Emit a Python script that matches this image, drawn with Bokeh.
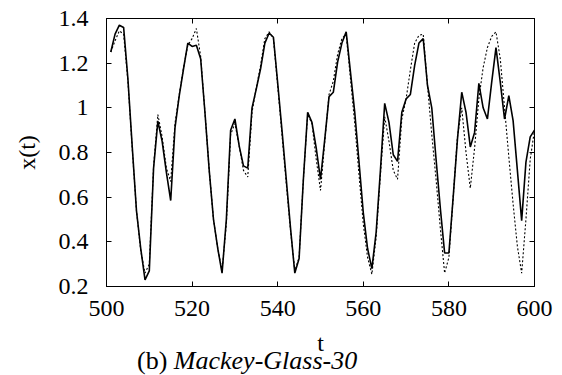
from bokeh.plotting import figure
from bokeh.models import LinearAxis, FixedTicker, Range1d, Div
from bokeh.layouts import column
from bokeh.embed import file_html
from bokeh.resources import INLINE

t = list(range(501, 601))

predicted = [
    1.25, 1.33, 1.37, 1.36, 1.13, 0.83, 0.54, 0.37, 0.23, 0.27,
    0.73, 0.94, 0.85, 0.71, 0.585, 0.91, 1.055, 1.175, 1.29, 1.275,
    1.28, 1.22, 0.98, 0.72, 0.50, 0.37, 0.26, 0.50, 0.90, 0.95,
    0.83, 0.74, 0.73, 1.00, 1.085, 1.175, 1.29, 1.335, 1.316, 1.11,
    0.90, 0.68, 0.46, 0.26, 0.325, 0.68, 0.98, 0.935, 0.82, 0.68,
    0.86, 1.05, 1.07, 1.205, 1.29, 1.34, 1.16, 0.98, 0.757, 0.53,
    0.37, 0.28, 0.443, 0.72, 1.02, 0.935, 0.79, 0.76, 0.98, 1.04,
    1.06, 1.19, 1.29, 1.31, 1.10, 1.00, 0.77, 0.55, 0.35, 0.35,
    0.60, 0.86, 1.07, 0.98, 0.825, 0.89, 1.11, 1.00, 0.95, 1.115,
    1.27, 1.115, 0.95, 1.055, 0.943, 0.72, 0.495, 0.757, 0.87, 0.90,
]

actual = [
    1.25, 1.30, 1.345, 1.33, 1.12, 0.82, 0.54, 0.36, 0.26, 0.30,
    0.74, 0.97, 0.87, 0.73, 0.67, 0.93, 1.06, 1.18, 1.28, 1.31,
    1.355, 1.23, 0.98, 0.72, 0.50, 0.37, 0.27, 0.48, 0.88, 0.93,
    0.83, 0.72, 0.69, 0.98, 1.09, 1.19, 1.31, 1.34, 1.31, 1.10,
    0.88, 0.66, 0.45, 0.27, 0.33, 0.68, 0.97, 0.93, 0.77, 0.63,
    0.85, 1.06, 1.12, 1.24, 1.31, 1.33, 1.13, 0.93, 0.70, 0.48,
    0.33, 0.255, 0.42, 0.70, 0.96, 0.85, 0.72, 0.68, 0.95, 1.04,
    1.17, 1.29, 1.325, 1.33, 1.10, 0.88, 0.68, 0.46, 0.26, 0.33,
    0.60, 0.87, 1.00, 0.80, 0.64, 0.82, 1.04, 1.18, 1.27, 1.32,
    1.34, 1.22, 1.00, 0.78, 0.57, 0.38, 0.26, 0.50, 0.77, 0.90,
]

x_ticks = [500, 520, 540, 560, 580, 600]
x_tick_labels = ["500", "520", "540", "560", "580", "600"]
y_ticks = [0.2, 0.4, 0.6, 0.8, 1.0, 1.2, 1.4]
y_tick_labels = ["0.2", "0.4", "0.6", "0.8", "1", "1.2", "1.4"]

FONT = "Liberation Serif"

p = figure(width=562, height=375,
           x_range=Range1d(500, 600), y_range=Range1d(0.2, 1.4),
           output_backend="svg", toolbar_location=None,
           min_border_left=106, min_border_right=28,
           min_border_top=18, min_border_bottom=89,
           x_axis_label="t", y_axis_label="x(t)")

p.xgrid.visible = False
p.ygrid.visible = False
p.outline_line_color = "black"
p.outline_line_width = 1
p.outline_line_alpha = 1
p.background_fill_color = "white"
p.border_fill_color = "white"

def style_axis(ax, ticks, labels, show_labels=True):
    ax.ticker = FixedTicker(ticks=ticks)
    ax.minor_tick_line_color = None
    ax.major_tick_in = 5
    ax.major_tick_out = 0
    ax.major_tick_line_color = "black"
    ax.axis_line_color = "black"
    ax.major_label_text_font = FONT
    ax.axis_label_text_font = FONT
    ax.axis_label_text_font_style = "normal"
    ax.axis_label_text_font_size = "24px"
    ax.axis_label_text_color = "black"
    ax.major_label_text_font_size = "24px"
    if show_labels:
        ax.major_label_overrides = {tk: lb for tk, lb in zip(ticks, labels)}
        ax.major_label_text_color = "black"
    else:
        ax.major_label_text_color = None
        ax.major_label_standoff = 0

style_axis(p.xaxis[0], x_ticks, x_tick_labels)
p.xaxis[0].major_label_standoff = 14
p.xaxis[0].axis_label_standoff = 11

style_axis(p.yaxis[0], y_ticks, y_tick_labels)
p.yaxis[0].major_label_standoff = 18
p.yaxis[0].axis_label_standoff = 16

top_axis = LinearAxis()
style_axis(top_axis, x_ticks, x_tick_labels, show_labels=False)
p.add_layout(top_axis, "above")

right_axis = LinearAxis()
style_axis(right_axis, y_ticks, y_tick_labels, show_labels=False)
p.add_layout(right_axis, "right")

p.line(t, actual, line_color="black", line_width=1.1, line_dash="2 2")
p.line(t, predicted, line_color="black", line_width=1.6)

title = Div(
    text=('<span style="font-family: \'Liberation Serif\', serif; font-size: 26px; '
          'line-height: 17px; color: black; white-space: nowrap;">'
          '(b) <i>Mackey-Glass-30</i></span>'),
    width=562, height=23, margin=(-23, 0, 0, 137))

layout = column(p, title, spacing=0)

open("out.html", "w").write(file_html(layout, INLINE))
